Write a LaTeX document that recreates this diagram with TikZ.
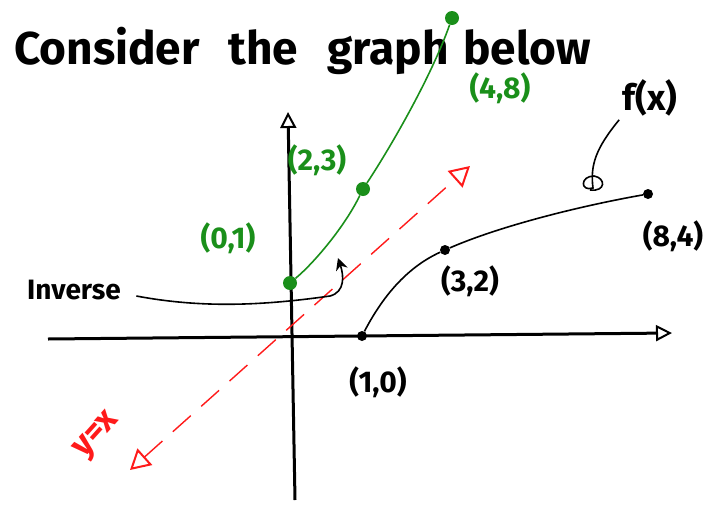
\documentclass[tikz,border=0pt]{standalone}
\usepackage{fontspec}
\setmainfont{Fira Sans}
\usepackage{tikz}
\usetikzlibrary{arrows.meta,calc}
\definecolor{invgreen}{HTML}{1A8F1A}
\definecolor{diagred}{HTML}{FF1A1A}
\tikzset{
  axis/.style={line width=3pt, -{Triangle[open, length=16pt, width=16pt, line width=2pt]}},
  fcurve/.style={line width=1.6pt, black},
  gcurve/.style={line width=1.6pt, invgreen},
  diag/.style={line width=1.4pt, diagred, dash pattern=on 24pt off 14pt,
               {Triangle[open, length=20pt, width=22pt, line width=2pt]}-{Triangle[open, length=20pt, width=22pt, line width=2pt]}},
  fdot/.style={circle, fill=black, inner sep=0pt, minimum size=10pt},
  gdot/.style={circle, fill=invgreen, inner sep=0pt, minimum size=14pt},
  flabel/.style={font=\fontsize{30}{34}\selectfont\bfseries, text=black},
  glabel/.style={font=\fontsize{30}{34}\selectfont\bfseries, text=invgreen},
  pointer/.style={line width=1.6pt, -{Stealth[length=12pt, width=12pt]}},
  >=Stealth,
}
\begin{document}
\begin{tikzpicture}[x=1pt, y=-1pt]
\useasboundingbox (0,0) rectangle (710,504);
\node[anchor=base west, inner sep=0pt, font=\fontsize{46}{50}\selectfont\bfseries] (title) at (14,64)
  {Consider\hspace{18pt} the\hspace{18pt} graph\hspace{4pt} below};

% axes
\coordinate (xstart) at (48,339);
\coordinate (xend) at (672,333);
\coordinate (ybot) at (295,500);
\coordinate (ytop) at (288,112);
\draw[axis] (xstart) -- (xend);
\draw[axis] (ybot) -- (ytop);

% line y = x
\coordinate (dlo) at (130,470);
\coordinate (dhi) at (470,166);
\draw[diag] (dlo) -- (dhi);
\node[font=\fontsize{34}{38}\selectfont\bfseries, text=diagred, rotate=48] (yx) at (98,436) {y=x};

% f(x)
\node[fdot] (f1) at (362,336) {};
\node[fdot] (f3) at (445,250) {};
\node[fdot] (f8) at (648,194) {};
\draw[fcurve] (f1) .. controls (385,292) and (410,266) .. (f3)
  .. controls (500,226) and (580,206) .. (f8);
\node[flabel] (l1) at (378,382) {(1,0)};
\node[flabel] (l3) at (470,281) {(3,2)};
\node[flabel] (l8) at (673,236) {(8,4)};
\node[font=\fontsize{36}{40}\selectfont\bfseries] (fx) at (650,98) {f(x)};
\draw[line width=1.6pt] (fx.south west) .. controls (596,148) and (590,165) .. (593,188)
  .. controls (580,192) and (580,176) .. (594,176)
  .. controls (606,178) and (606,192) .. (590,190);

% inverse
\node[gdot] (g0) at (290,283) {};
\node[gdot] (g2) at (363,189) {};
\node[gdot] (g4) at (452,18) {};
\draw[gcurve] (g0) .. controls (315,262) and (345,226) .. (g2)
  .. controls (392,145) and (432,75) .. (g4);
\node[glabel] (m0) at (228,238) {(0,1)};
\node[glabel] (m2) at (317,160) {(2,3)};
\node[glabel] (m4) at (500,88) {(4,8)};

\node[font=\fontsize{28}{32}\selectfont\bfseries] (inv) at (74,290) {Inverse};
\coordinate (invtip) at (338,258);
\draw[pointer] ([xshift=12pt, yshift=-6pt]inv.east) .. controls (200,308) and (260,306) .. (330,296)
  .. controls (345,292) and (344,276) .. (invtip);
\end{tikzpicture}
\end{document}
